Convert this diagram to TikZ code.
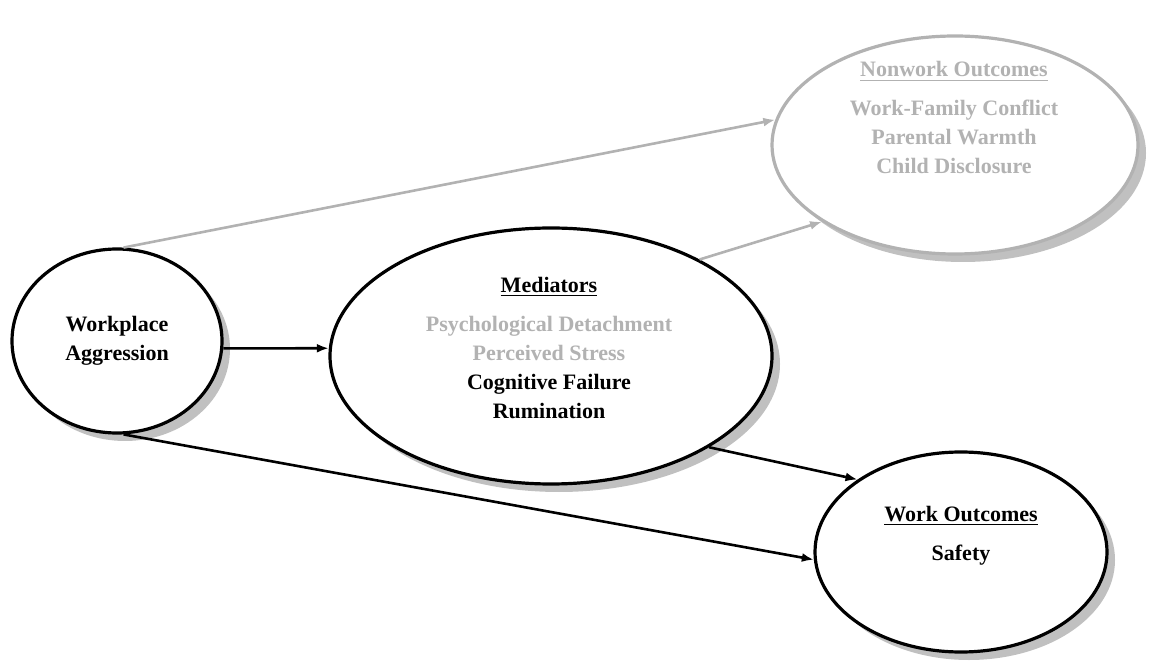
\documentclass[tikz,border=0pt]{standalone}
\usepackage{fontspec}
\setmainfont{Liberation Serif}
\usetikzlibrary{shapes.geometric, shadows, arrows.meta}

\definecolor{lightgrey}{RGB}{178,178,178}
\definecolor{shadowgrey}{RGB}{192,192,192}

\tikzset{
  oval/.style={draw, ellipse, line width=1.6pt, fill=white, inner sep=0pt,
    drop shadow={shadow xshift=4pt, shadow yshift=-4pt, fill=shadowgrey, opacity=1}},
  txt/.style={align=center, font=\fontsize{11}{14.5}\selectfont\bfseries},
  link/.style={line width=1.3pt, -{Latex[length=6pt,width=4.5pt]}},
}

\begin{document}
\begin{tikzpicture}[x=0.5pt, y=-0.5pt]
\useasboundingbox (0,0) rectangle (1151,662);

\node[oval, minimum width=105pt, minimum height=92pt, txt] (WA) at (117,341) {Workplace\\Aggression};
\node[oval, minimum width=221pt, minimum height=128pt] (MED) at (551,356) {};
\node[oval, draw=lightgrey, minimum width=183pt, minimum height=109pt] (NW) at (955,145) {};
\node[oval, minimum width=146pt, minimum height=100pt] (WO) at (961,552) {};

\node[txt] (MEDtext) at (549,348) {\underline{Mediators}\\[5pt]
  \textcolor{lightgrey}{Psychological Detachment}\\
  \textcolor{lightgrey}{Perceived Stress}\\
  Cognitive Failure\\
  Rumination};
\node[txt, text=lightgrey] (NWtext) at (954,118) {\underline{Nonwork Outcomes}\\[5pt]
  Work-Family Conflict\\
  Parental Warmth\\
  Child Disclosure};
\node[txt] (WOtext) at (961,536) {\underline{Work Outcomes}\\[5pt] Safety};

%% links
\draw[link, draw=lightgrey] (WA.86) -- (NW.172);
\draw[link, draw=lightgrey] (MED.33) -- (NW.210);
\draw[link] (WA.-4) -- (MED.178);
\draw[link] (MED.-30) -- (WO.145);
\draw[link] (WA.-86) -- (WO.183);

\end{tikzpicture}
\end{document}
